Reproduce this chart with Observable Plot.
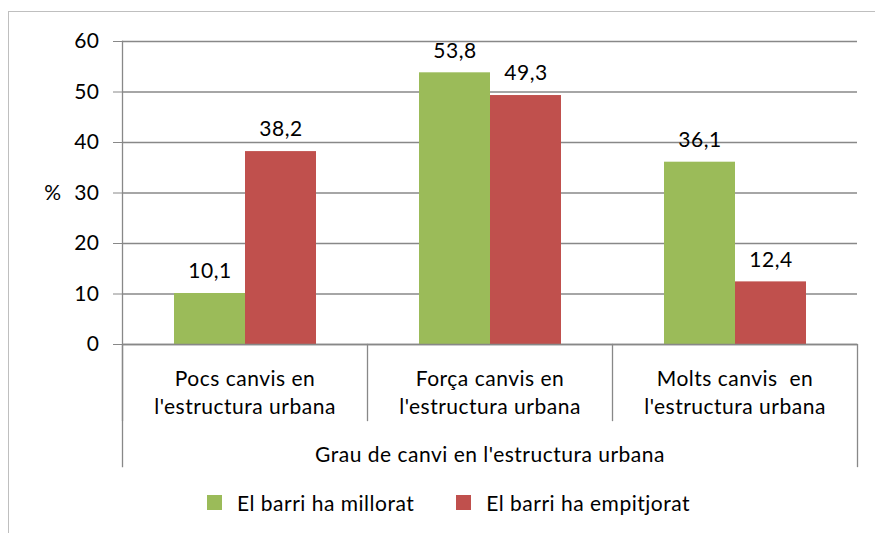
<!DOCTYPE html>
<html>
<head>
<meta charset="utf-8">
<script src="https://cdn.jsdelivr.net/npm/d3@7"></script>
<script src="https://cdn.jsdelivr.net/npm/@observablehq/plot@0.6"></script>
<style>
  html, body { margin: 0; padding: 0; background: #fff; overflow: hidden; }
  #wrap { position: relative; width: 875px; height: 533px; font-family: Lato, "Open Sans", sans-serif; }
  #border { position: absolute; left: 8px; top: 11px; width: 900px; height: 600px; border: 1px solid #bfbfbf; box-sizing: border-box; }
  #chart { position: absolute; left: 0; top: 0; }
  #chart svg text { letter-spacing: 0.5px; }
  #legend { position: absolute; left: 207px; top: 490px; width: 660px; }
  #legend > div { display: flex !important; justify-content: flex-start; margin: 0 !important; min-height: 0 !important; }
  #legend span { margin-right: 42px !important; letter-spacing: 0.5px; }
  #legend span > svg { margin-right: 15px !important; }
</style>
</head>
<body>
<div id="wrap">
  <div id="border"></div>
  <div id="chart"></div>
  <div id="legend"></div>
</div>
<script>
const categories = ["Pocs canvis en\nl'estructura urbana", "Força canvis en\nl'estructura urbana", "Molts canvis  en\nl'estructura urbana"];
const series = ["El barri ha millorat", "El barri ha empitjorat"];
const millorat = [10.1, 53.8, 36.1];
const empitjorat = [38.2, 49.3, 12.4];
const yTicks = [0, 10, 20, 30, 40, 50, 60];
const colors = ["#9BBB59", "#C0504D"];
const axisTitle = "Grau de canvi en l'estructura urbana";
const yLabel = "%";

const data = [];
categories.forEach((c, i) => {
  data.push({cat: c, series: series[0], value: millorat[i]});
  data.push({cat: c, series: series[1], value: empitjorat[i]});
});

const fmt = v => v.toFixed(1).replace(".", ",");
const FS = 21;
const W = 875, H = 480;
const mTop = 41, mBottom = H - 344, mLeft = 121, mRight = 17;
const plotH = H - mTop - mBottom;

const chart = Plot.plot({
  width: W,
  height: H,
  marginTop: mTop,
  marginBottom: mBottom,
  marginLeft: mLeft,
  marginRight: mRight,
  style: {fontFamily: "Lato, 'Open Sans', sans-serif", fontSize: FS + "px", color: "#000", background: "transparent"},
  fx: {domain: categories, padding: 0, label: null},
  x: {domain: series, paddingInner: 0, paddingOuter: 0.72, axis: null},
  y: {domain: [0, 60], ticks: yTicks},
  color: {domain: series, range: colors},
  marks: [
    Plot.ruleY(yTicks, {stroke: "#888", strokeWidth: 1.3}),
    Plot.axisY({ticks: yTicks, tickSize: 9, tickPadding: 14, stroke: "#888", strokeOpacity: 1, label: null, fontSize: FS, fill: "#000"}),
    Plot.barY(data, {fx: "cat", x: "series", y: "value", fill: "series"}),
    Plot.text(data, {fx: "cat", x: "series", y: "value", text: d => fmt(d.value), dy: -22, fontSize: FS, fill: "#000"}),
    Plot.axisFx({anchor: "bottom", tickSize: 0, tickPadding: 22, label: null, fontSize: FS, lineHeight: 1.33, fill: "#000"}),
    Plot.frame({anchor: "left", stroke: "#888", strokeWidth: 1.3, insetTop: plotH, insetBottom: -76}),
    Plot.frame({facet: "super", anchor: "left", stroke: "#888", strokeWidth: 1.3, insetBottom: -122}),
    Plot.frame({facet: "super", anchor: "right", stroke: "#888", strokeWidth: 1.3, insetTop: plotH, insetBottom: -122}),
    Plot.ruleY([0], {stroke: "#888", strokeWidth: 1.3}),
    Plot.text([axisTitle], {facet: "super", frameAnchor: "bottom", dy: 117, fontSize: FS, fill: "#000"}),
    Plot.text([yLabel], {facet: "super", frameAnchor: "left", textAnchor: "end", dx: -61, fontSize: FS, fill: "#000"})
  ]
});
document.getElementById("chart").appendChild(chart);

const leg = chart.legend("color", {swatchSize: 15, swatchWidth: 15, swatchHeight: 15});
leg.style.fontFamily = "Lato, 'Open Sans', sans-serif";
leg.style.fontSize = FS + "px";
leg.style.color = "#000";
document.getElementById("legend").appendChild(leg);
</script>
</body>
</html>
